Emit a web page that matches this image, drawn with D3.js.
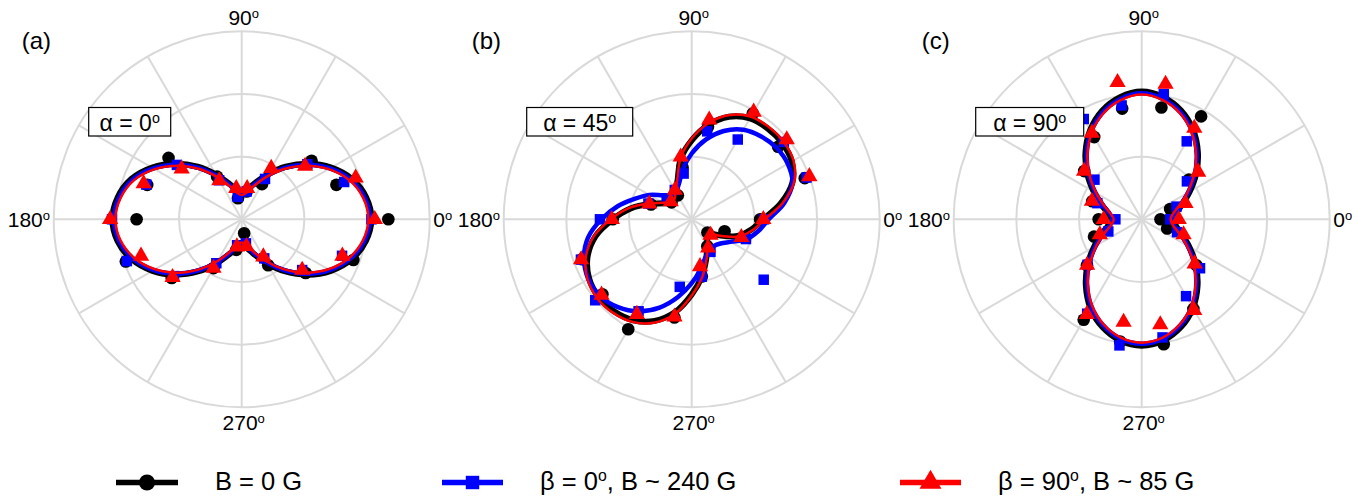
<!DOCTYPE html>
<html>
<head>
<meta charset="utf-8">
<script src="https://cdn.jsdelivr.net/npm/d3@7"></script>
<style>
  body { margin: 0; background: #fff; }
  svg { display: block; }
  text { font-family: "Liberation Sans", Arial, sans-serif; fill: #000; }
</style>
</head>
<body>
<svg id="chart" width="1353" height="499"></svg>
<script>
// ---- angles (degrees, counter-clockwise from 0°) ----
const markerAngles = [0, 20, 40, 60, 80, 100, 120, 140, 160, 180, 200, 220, 240, 260, 280, 300, 320, 340];
const fitAngles = [0, 10, 20, 30, 40, 50, 60, 70, 80, 90, 100, 110, 120, 130, 140, 150, 160, 170,
                   180, 190, 200, 210, 220, 230, 240, 250, 260, 270, 280, 290, 300, 310, 320, 330, 340, 350];
const gridAngles = [0, 30, 60, 90, 120, 150, 180, 210, 240, 270, 300, 330];
const gridRings = [1 / 3, 2 / 3, 1];
const angleLabels = ["0", "90", "180", "270"];

const panelLabels = ["(a)", "(b)", "(c)"];
const alphaLabels = ["0", "45", "90"];

// ---- normalised intensity, panel (a): alpha = 0° ----
const a_B0_pts   = [0.78, 0.536, 0.485, 0.216, 0.15, 0.114, 0.262, 0.508, 0.535, 0.559, 0.656, 0.486, 0.30, 0.165, 0.075, 0.282, 0.444, 0.632];
const a_b0_pts   = [0.69, 0.58, 0.456, 0.248, 0.15, 0.122, 0.24, 0.45, 0.54, 0.69, 0.65, 0.47, 0.27, 0.14, 0.13, 0.24, 0.42, 0.568];
const a_b90_pts  = [0.708, 0.645, 0.44, 0.314, 0.167, 0.167, 0.238, 0.417, 0.555, 0.70, 0.57, 0.48, 0.30, 0.148, 0.146, 0.23, 0.42, 0.57];
const a_B0_fit   = [0.69, 0.672, 0.625, 0.55, 0.46, 0.365, 0.275, 0.205, 0.16, 0.145, 0.16, 0.205, 0.275, 0.365, 0.46, 0.55, 0.625, 0.67,
                    0.688, 0.67, 0.622, 0.548, 0.458, 0.362, 0.272, 0.2, 0.155, 0.14, 0.155, 0.2, 0.272, 0.362, 0.458, 0.548, 0.622, 0.67];
const a_b0_fit   = [0.682, 0.664, 0.617, 0.542, 0.452, 0.357, 0.267, 0.197, 0.152, 0.137, 0.152, 0.197, 0.267, 0.357, 0.452, 0.542, 0.617, 0.662,
                    0.68, 0.662, 0.614, 0.54, 0.45, 0.354, 0.264, 0.192, 0.147, 0.132, 0.147, 0.192, 0.264, 0.354, 0.45, 0.54, 0.614, 0.662];
const a_b90_fit  = [0.674, 0.656, 0.609, 0.534, 0.444, 0.349, 0.259, 0.189, 0.144, 0.129, 0.144, 0.189, 0.259, 0.349, 0.444, 0.534, 0.609, 0.654,
                    0.672, 0.654, 0.606, 0.532, 0.442, 0.346, 0.256, 0.184, 0.139, 0.124, 0.139, 0.184, 0.256, 0.346, 0.442, 0.532, 0.606, 0.654];

// ---- panel (b): alpha = 45° ----
const b_B0_pts   = [0.364, 0.64, 0.60, 0.65, 0.50, 0.28, 0.147, 0.14, 0.23, 0.42, 0.62, 0.62, 0.675, 0.53, 0.309, 0.166, 0.109, 0.186];
const b_b0_pts   = [0.385, 0.65, 0.64, 0.49, 0.475, 0.247, 0.18, 0.174, 0.245, 0.488, 0.627, 0.67, 0.565, 0.365, 0.31, 0.20, 0.50, 0.307];
const b_b90_pts  = [0.381, 0.666, 0.66, 0.659, 0.537, 0.337, 0.179, 0.146, 0.24, 0.425, 0.626, 0.626, 0.583, 0.527, 0.255, 0.175, 0.131, 0.281];
const b_B0_fit   = [0.38, 0.48, 0.57, 0.615, 0.63, 0.63, 0.62, 0.58, 0.51, 0.42, 0.33, 0.22, 0.17, 0.14, 0.14, 0.17, 0.24, 0.33,
                    0.42, 0.52, 0.59, 0.63, 0.645, 0.64, 0.62, 0.575, 0.5, 0.4, 0.31, 0.225, 0.165, 0.13, 0.12, 0.17, 0.26, 0.32];
const b_b0_fit   = [0.41, 0.5, 0.57, 0.59, 0.59, 0.575, 0.55, 0.5, 0.43, 0.35, 0.27, 0.2, 0.17, 0.17, 0.2, 0.26, 0.32, 0.4,
                    0.48, 0.56, 0.61, 0.635, 0.635, 0.61, 0.565, 0.5, 0.42, 0.34, 0.27, 0.215, 0.19, 0.185, 0.2, 0.24, 0.31, 0.36];
const b_b90_fit  = [0.388, 0.49, 0.58, 0.625, 0.64, 0.64, 0.63, 0.59, 0.52, 0.43, 0.335, 0.225, 0.172, 0.142, 0.142, 0.175, 0.245, 0.34,
                    0.43, 0.53, 0.6, 0.64, 0.655, 0.65, 0.63, 0.585, 0.51, 0.405, 0.315, 0.23, 0.168, 0.133, 0.123, 0.175, 0.268, 0.33];

// ---- panel (c): alpha = 90° ----
const c_B0_pts   = [0.10, 0.161, 0.328, 0.632, 0.604, 0.598, 0.505, 0.399, 0.28, 0.229, 0.27, 0.38, 0.617, 0.66, 0.675, 0.55, 0.38, 0.144];
const c_b0_pts   = [0.152, 0.197, 0.314, 0.479, 0.677, 0.615, 0.616, 0.328, 0.251, 0.14, 0.189, 0.376, 0.58, 0.681, 0.638, 0.472, 0.405, 0.2];
const c_b90_pts  = [0.197, 0.248, 0.392, 0.56, 0.73, 0.74, 0.53, 0.40, 0.282, 0.202, 0.237, 0.379, 0.583, 0.555, 0.569, 0.559, 0.368, 0.237];
const c_B0_fit   = [0.17, 0.185, 0.228, 0.295, 0.378, 0.465, 0.548, 0.615, 0.66, 0.68, 0.66, 0.615, 0.548, 0.465, 0.378, 0.295, 0.228, 0.183,
                    0.165, 0.18, 0.225, 0.292, 0.375, 0.462, 0.545, 0.61, 0.655, 0.672, 0.655, 0.61, 0.545, 0.462, 0.375, 0.292, 0.225, 0.183];
const c_b0_fit   = [0.16, 0.175, 0.218, 0.285, 0.368, 0.455, 0.538, 0.605, 0.65, 0.67, 0.65, 0.605, 0.538, 0.455, 0.368, 0.285, 0.218, 0.173,
                    0.155, 0.17, 0.215, 0.282, 0.365, 0.452, 0.535, 0.6, 0.645, 0.662, 0.645, 0.6, 0.535, 0.452, 0.365, 0.282, 0.215, 0.173];
const c_b90_fit  = [0.154, 0.169, 0.212, 0.279, 0.362, 0.449, 0.532, 0.599, 0.644, 0.664, 0.644, 0.599, 0.532, 0.449, 0.362, 0.279, 0.212, 0.167,
                    0.149, 0.164, 0.209, 0.276, 0.359, 0.446, 0.529, 0.594, 0.639, 0.656, 0.639, 0.594, 0.529, 0.446, 0.359, 0.276, 0.209, 0.167];

const panels = [
  { label: panelLabels[0], alpha: alphaLabels[0], pts: [a_B0_pts, a_b0_pts, a_b90_pts], fit: [a_B0_fit, a_b0_fit, a_b90_fit] },
  { label: panelLabels[1], alpha: alphaLabels[1], pts: [b_B0_pts, b_b0_pts, b_b90_pts], fit: [b_B0_fit, b_b0_fit, b_b90_fit] },
  { label: panelLabels[2], alpha: alphaLabels[2], pts: [c_B0_pts, c_b0_pts, c_b90_pts], fit: [c_B0_fit, c_b0_fit, c_b90_fit] }
];

// ---- series appearance ----
const series = [
  { color: "#000000", width: 6,   symbol: d3.symbolCircle,   size: 125, legSize: 200 },
  { color: "#0000ff", width: 4.5, symbol: d3.symbolSquare,   size: 110, legSize: 180 },
  { color: "#ff0000", width: 2.5, symbol: d3.symbolTriangle, size: 115, legSize: 210 }
];

// ---- layout ----
const R = 188;
const cy = 219.3;
const centers = [241.7, 691.7, 1141.7];
const boxWidths = [82, 106, 108];
const gridColor = "#d9d9d9";

const svg = d3.select("#chart");
const rScale = d3.scaleLinear().domain([0, 1]).range([0, R]);
const toRad = deg => (90 - deg) * Math.PI / 180;   // d3 radial angle: clockwise from 12 o'clock

const line = d3.lineRadial()
  .angle(d => toRad(d[0]))
  .radius(d => rScale(d[1]))
  .curve(d3.curveCatmullRomClosed.alpha(0.5));

function addDegree(textSel, main) {
  textSel.append("tspan").text(main);
  textSel.append("tspan").attr("font-size", "62%").attr("dy", "-0.55em").text("o");
}

panels.forEach((p, i) => {
  const cx = centers[i];
  const g = svg.append("g").attr("transform", `translate(${cx},${cy})`);

  // grid rings and spokes
  g.selectAll("circle.ring").data(gridRings).enter().append("circle")
    .attr("class", "ring")
    .attr("r", d => rScale(d))
    .attr("fill", "none").attr("stroke", gridColor).attr("stroke-width", 2);
  g.selectAll("line.spoke").data(gridAngles).enter().append("line")
    .attr("class", "spoke")
    .attr("x1", 0).attr("y1", 0)
    .attr("x2", d => d3.pointRadial(toRad(d), rScale(1))[0])
    .attr("y2", d => d3.pointRadial(toRad(d), rScale(1))[1])
    .attr("stroke", gridColor).attr("stroke-width", 2);

  // angle labels
  addDegree(g.append("text").attr("x", 2).attr("y", -R - 6.3).attr("text-anchor", "middle").attr("font-size", 21), angleLabels[1]);
  addDegree(g.append("text").attr("x", 2).attr("y", R + 22.7).attr("text-anchor", "middle").attr("font-size", 21), angleLabels[3]);
  addDegree(g.append("text").attr("x", R + 3.6).attr("y", 7.4).attr("text-anchor", "start").attr("font-size", 21), angleLabels[0]);
  addDegree(g.append("text").attr("x", -R - 3.7).attr("y", 7.4).attr("text-anchor", "end").attr("font-size", 21), angleLabels[2]);

  // series: fitted curve then measured points, black, blue, red
  series.forEach((s, k) => {
    const fitData = fitAngles.map((a, j) => [a, p.fit[k][j]]);
    g.append("path")
      .attr("d", line(fitData))
      .attr("fill", "none")
      .attr("stroke", s.color)
      .attr("stroke-width", s.width)
      .attr("stroke-linejoin", "round");
    const ptData = markerAngles.map((a, j) => [a, p.pts[k][j]]);
    g.selectAll(null).data(ptData).enter().append("path")
      .attr("d", d3.symbol().type(s.symbol).size(s.size))
      .attr("transform", d => {
        const [x, y] = d3.pointRadial(toRad(d[0]), rScale(d[1]));
        return `translate(${x},${y})`;
      })
      .attr("fill", s.color);
  });

  // panel letter
  svg.append("text").attr("x", cx - 220).attr("y", 48.5).attr("font-size", 24).text(p.label);

  // alpha box
  const bx = cx - 112 - boxWidths[i] / 2;
  svg.append("rect").attr("x", bx).attr("y", 107.5).attr("width", boxWidths[i]).attr("height", 28.5)
    .attr("fill", "#fff").attr("stroke", "#000").attr("stroke-width", 1.2);
  const at = svg.append("text").attr("x", cx - 112).attr("y", 130.5).attr("text-anchor", "middle").attr("font-size", 23);
  at.append("tspan").text("\u03b1 = " + p.alpha);
  at.append("tspan").attr("font-size", "62%").attr("dy", "-0.55em").text("o");
});

// ---- legend ----
const legendItems = [
  { x1: 116, x2: 178, tx: 215, parts: ["B = 0 G"] },
  { x1: 442, x2: 503, tx: 540, parts: ["\u03b2 = 0", "o", ", B ~ 240 G"] },
  { x1: 900, x2: 961, tx: 998, parts: ["\u03b2 = 90", "o", ", B ~ 85 G"] }
];
const ly = 482.5;
legendItems.forEach((it, k) => {
  const s = series[k];
  svg.append("line").attr("x1", it.x1).attr("x2", it.x2).attr("y1", ly).attr("y2", ly)
    .attr("stroke", s.color).attr("stroke-width", 5.5);
  svg.append("path").attr("d", d3.symbol().type(s.symbol).size(s.legSize))
    .attr("transform", `translate(${(it.x1 + it.x2) / 2},${ly})`).attr("fill", s.color);
  const t = svg.append("text").attr("x", it.tx).attr("y", 490).attr("font-size", 25.5);
  if (it.parts.length === 1) {
    t.text(it.parts[0]);
  } else {
    t.append("tspan").text(it.parts[0]);
    t.append("tspan").attr("font-size", "62%").attr("dy", "-0.55em").text(it.parts[1]);
    t.append("tspan").attr("dy", "0.341em").text(it.parts[2]);
  }
});
</script>
</body>
</html>
